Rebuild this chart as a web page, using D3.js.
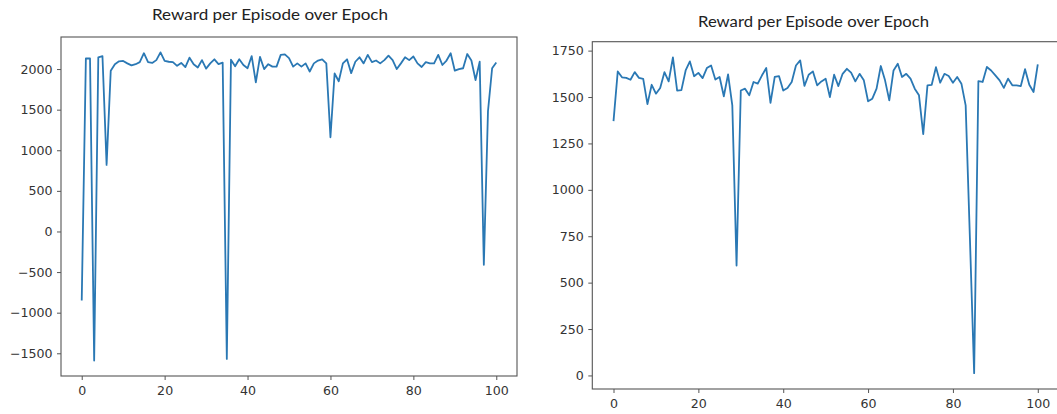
<!DOCTYPE html>
<html><head><meta charset="utf-8">
<script src="https://cdn.jsdelivr.net/npm/d3@7"></script>
<style>body{margin:0;background:#fff;overflow:hidden}</style>
</head><body>
<svg id="c" width="1057" height="414"></svg>
<script>
// ---- data ----
const titleText = "Reward per Episode over Epoch";
const leftRewards = [
  -850, 2130, 2130, -1590, 2145, 2160, 820, 1980, 2060, 2095,
  2100, 2070, 2045, 2060, 2085, 2195, 2085, 2075, 2110, 2205,
  2100, 2090, 2085, 2040, 2075, 2025, 2140, 2060, 2020, 2110,
  2005, 2070, 2120, 2060, 2080, -1570, 2115, 2035, 2120, 2050,
  2010, 2160, 1835, 2150, 2000, 2060, 2030, 2030, 2175, 2180,
  2135, 2030, 2070, 2030, 2070, 1970, 2070, 2105, 2120, 2070,
  1160, 1945, 1850, 2070, 2120, 1950, 2090, 2145, 2070, 2175,
  2085, 2105, 2070, 2110, 2165, 2110, 2000, 2070, 2145, 2110,
  2155, 2070, 2025, 2085, 2070, 2070, 2175, 2050, 2105, 2195,
  1980, 2000, 2010, 2185, 2105, 1865, 2090, -410, 1480, 2010, 2080
];
const rightRewards = [
  1370, 1638, 1606, 1603, 1593, 1634, 1603, 1598, 1462, 1566,
  1518, 1549, 1634, 1584, 1713, 1535, 1537, 1643, 1692, 1612,
  1630, 1602, 1656, 1670, 1594, 1608, 1504, 1622, 1455, 592,
  1535, 1545, 1509, 1581, 1572, 1617, 1656, 1468, 1608, 1613,
  1535, 1549, 1581, 1670, 1697, 1560, 1620, 1638, 1563, 1584,
  1599, 1500, 1620, 1559, 1625, 1652, 1631, 1584, 1625, 1590,
  1477, 1491, 1545, 1667, 1590, 1482, 1643, 1679, 1608, 1625,
  1599, 1545, 1509, 1300, 1563, 1566, 1661, 1577, 1625, 1613,
  1577, 1608, 1572, 1455, 740, 12, 1586, 1581, 1662, 1643,
  1617, 1590, 1549, 1599, 1563, 1563, 1559, 1650, 1566, 1527, 1676
];
const xTicks = [0, 20, 40, 60, 80, 100];
const leftYTicks = [-1500, -1000, -500, 0, 500, 1000, 1500, 2000];
const rightYTicks = [0, 250, 500, 750, 1000, 1250, 1500, 1750];

// ---- layout ----
const panels = [
  {data: leftRewards, yTicks: leftYTicks, box: {l: 61, r: 517, t: 37, b: 376},
   title: {x: 152, y: 20, len: 236}},
  {data: rightRewards, yTicks: rightYTicks, box: {l: 592.3, r: 1059, t: 41.7, b: 389},
   title: {x: 698, y: 27, len: 231}}
];

const svg = d3.select("#c");
const lineColor = "#2a78b4";
const axisColor = "#555";
const textColor = "#333";
const tickFont = "DejaVu Sans, sans-serif";

panels.forEach(p => {
  const b = p.box;
  const n = p.data.length;
  const x = d3.scaleLinear().domain([-0.05 * (n - 1), (n - 1) * 1.05]).range([b.l, b.r]);
  const mn = d3.min(p.data), mx = d3.max(p.data), rg = mx - mn;
  const y = d3.scaleLinear().domain([mn - 0.05 * rg, mx + 0.05 * rg]).range([b.b, b.t]);

  const g = svg.append("g");

  // line
  g.append("path")
    .datum(p.data)
    .attr("fill", "none")
    .attr("stroke", lineColor)
    .attr("stroke-width", 1.8)
    .attr("stroke-linejoin", "round")
    .attr("d", d3.line().x((d, i) => x(i)).y(d => y(d)));

  // axes
  const xa = g.append("g").attr("transform", `translate(0,${b.b})`)
    .call(d3.axisBottom(x).tickValues(xTicks).tickSize(4).tickSizeOuter(0).tickPadding(6.5).tickFormat(d3.format("d")));
  const ya = g.append("g").attr("transform", `translate(${b.l},0)`)
    .call(d3.axisLeft(y).tickValues(p.yTicks).tickSize(4).tickSizeOuter(0).tickPadding(4.5).tickFormat(d3.format("d")));
  [xa, ya].forEach(a => {
    a.select(".domain").remove();
    a.selectAll(".tick line").attr("stroke", axisColor).attr("stroke-width", 1);
    a.selectAll(".tick text").attr("fill", textColor).style("font-family", tickFont).style("font-size", "12.6px");
  });

  // spines
  g.append("rect")
    .attr("x", b.l).attr("y", b.t)
    .attr("width", b.r - b.l).attr("height", b.b - b.t)
    .attr("fill", "none").attr("stroke", axisColor).attr("stroke-width", 1.1);

  // title
  svg.append("text")
    .attr("x", p.title.x).attr("y", p.title.y)
    .attr("textLength", p.title.len).attr("lengthAdjust", "spacingAndGlyphs")
    .style("font-family", "Lato, 'Open Sans', sans-serif")
    .style("font-size", "15.5px")
    .attr("fill", "#222")
    .text(titleText);
});
</script>
</body></html>
